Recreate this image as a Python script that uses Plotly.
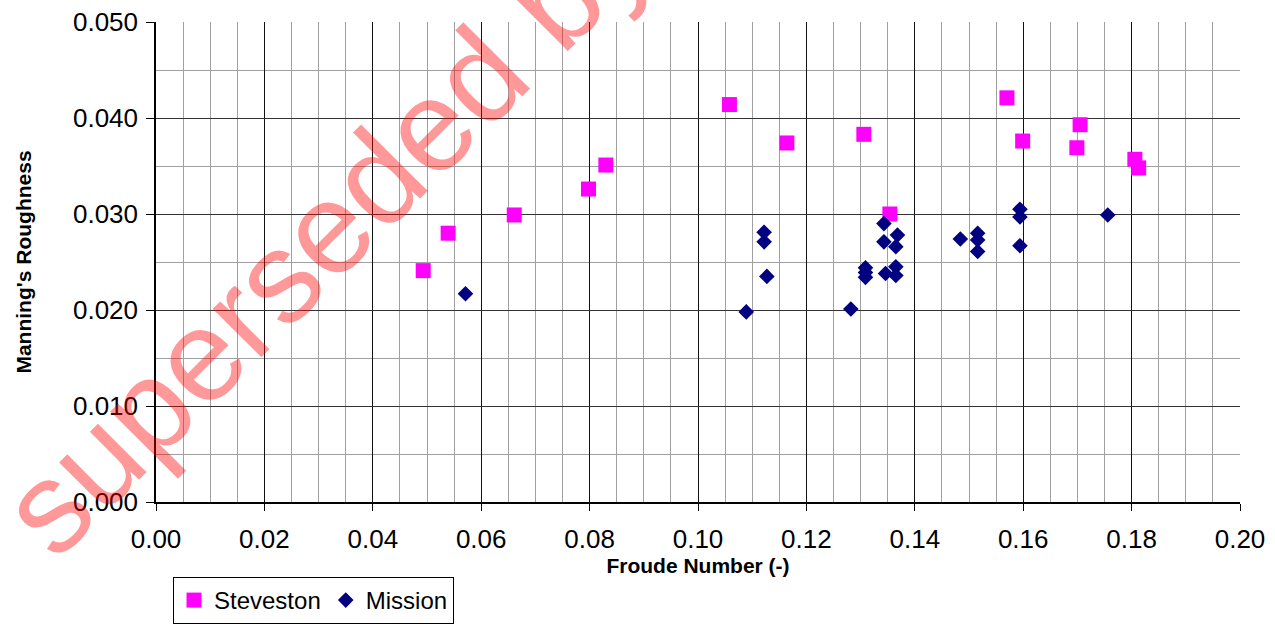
import plotly.graph_objects as go

steveston_x = [0.0493, 0.0539, 0.0661, 0.0798, 0.0830, 0.1058, 0.1164, 0.1306, 0.1354, 0.1570, 0.1599, 0.1705, 0.1699, 0.1806, 0.1813]
steveston_y = [0.0241, 0.0280, 0.0299, 0.0326, 0.0351, 0.0414, 0.0374, 0.0383, 0.0300, 0.0421, 0.0376, 0.0393, 0.0369, 0.0357, 0.0348]

mission_x = [0.0571, 0.1089, 0.1122, 0.1122, 0.1127, 0.1282, 0.1309, 0.1309, 0.1309, 0.1343, 0.1343, 0.1368,
             0.1365, 0.1346, 0.1365, 0.1365, 0.1484, 0.1516, 0.1516, 0.1516, 0.1594, 0.1594, 0.1594, 0.1756]
mission_y = [0.0217, 0.0198, 0.0281, 0.0271, 0.0235, 0.0201, 0.0244, 0.0239, 0.0234, 0.0290, 0.0271, 0.0278,
             0.0266, 0.0238, 0.0245, 0.0236, 0.0274, 0.0280, 0.0273, 0.0261, 0.0305, 0.0297, 0.0267, 0.0299]

x_ticks = [0.00, 0.02, 0.04, 0.06, 0.08, 0.10, 0.12, 0.14, 0.16, 0.18, 0.20]
y_ticks = [0.000, 0.010, 0.020, 0.030, 0.040, 0.050]

FONT = "Liberation Sans, Arial, sans-serif"

fig = go.Figure()
fig.add_trace(go.Scatter(x=steveston_x, y=steveston_y, mode="markers", name="Steveston",
                         marker=dict(symbol="square", size=15, color="#FF00FF")))
fig.add_trace(go.Scatter(x=mission_x, y=mission_y, mode="markers", name="Mission",
                         marker=dict(symbol="diamond", size=12, color="#000080")))

fig.update_layout(
    width=1275, height=625,
    margin=dict(l=156, r=35, t=22, b=123),
    paper_bgcolor="white", plot_bgcolor="white",
    font=dict(family=FONT, color="black", size=26),
    showlegend=True,
    legend=dict(orientation="h", xref="container", yref="container",
                x=173 / 1275, y=1 / 625, xanchor="left", yanchor="bottom",
                bordercolor="black", borderwidth=1, font=dict(size=24, family=FONT),
                itemwidth=30, tracegroupgap=0),
    xaxis=dict(
        range=[0, 0.20], tickvals=x_ticks, ticktext=[f"{v:.2f}" for v in x_ticks],
        automargin=False,
        showgrid=True, gridcolor="#111111", gridwidth=1,
        minor=dict(dtick=0.005, showgrid=True, gridcolor="#a0a0a0", gridwidth=1),
        showline=True, linecolor="black", linewidth=1.5,
        ticks="outside", ticklen=7, tickcolor="black",
        zeroline=False, ticklabelstandoff=6,
        tickfont=dict(size=26, family=FONT),
        title=dict(text="<b>Froude Number (-)</b>", font=dict(size=21, family=FONT), standoff=36),
    ),
    yaxis=dict(
        range=[0, 0.050], tickvals=y_ticks, ticktext=[f"{v:.3f}" for v in y_ticks],
        automargin=False,
        showgrid=True, gridcolor="#333333", gridwidth=1,
        minor=dict(dtick=0.005, showgrid=True, gridcolor="#a0a0a0", gridwidth=1),
        showline=True, linecolor="black", linewidth=1.5,
        ticks="outside", ticklen=8, tickcolor="black",
        zeroline=False, ticklabelstandoff=3,
        tickfont=dict(size=26, family=FONT),
        title=dict(text="<b>Manning's Roughness</b>", font=dict(size=21, family=FONT), standoff=36),
    ),
)

fig.add_annotation(
    text="superseded by", xref="paper", yref="paper", x=0.156, y=0.567,
    xanchor="center", yanchor="middle",
    showarrow=False, textangle=-45,
    font=dict(size=130, family=FONT, color="rgba(255,0,0,0.4)"),
)

fig.write_html("out.html", config={"displayModeBar": False},
               post_script="document.body.style.margin='0';document.body.style.overflow='hidden';")
